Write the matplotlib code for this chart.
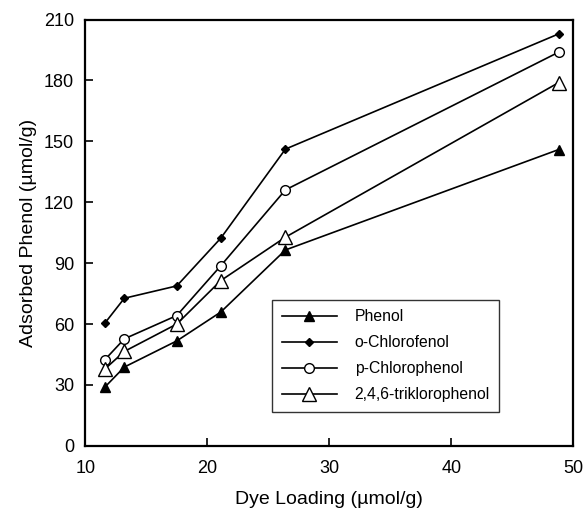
import matplotlib
matplotlib.use("Agg")
import matplotlib.pyplot as plt

plt.rcParams['font.family'] = ['Liberation Sans', 'DejaVu Sans']

# dye loading (umol/g)
dye_loading = [11.6, 13.2, 17.5, 21.1, 26.4, 48.8]

# adsorbed amounts (umol/g)
phenol = [28.9, 38.8, 51.7, 65.9, 96.5, 146]
o_chlorofenol = [60.4, 72.7, 78.8, 102.3, 146.2, 203]
p_chlorophenol = [42.4, 52.7, 64.2, 88.7, 126.1, 194]
triklorophenol = [37.8, 46.5, 60.0, 81.4, 102.8, 179]

x_ticks = [10, 20, 30, 40, 50]
y_ticks = [0, 30, 60, 90, 120, 150, 180, 210]

fig = plt.figure(figsize=(5.84, 5.16), dpi=100)
ax = fig.add_axes([0.146, 0.136, 0.836, 0.826])

ax.plot(dye_loading, phenol, color='black', lw=1.2, marker='^', ms=7,
        mfc='black', mec='black', label='Phenol')
ax.plot(dye_loading, o_chlorofenol, color='black', lw=1.2, marker='D', ms=4.5,
        mfc='black', mec='black', label='o-Chlorofenol')
ax.plot(dye_loading, p_chlorophenol, color='black', lw=1.2, marker='o', ms=7,
        mfc='white', mec='black', mew=1.0, label='p-Chlorophenol')
ax.plot(dye_loading, triklorophenol, color='black', lw=1.2, marker='^', ms=10.5,
        mfc='white', mec='black', mew=1.0, label='2,4,6-triklorophenol')

ax.set_xlim(10, 50)
ax.set_ylim(0, 210)
ax.set_xticks(x_ticks)
ax.set_yticks(y_ticks)
ax.tick_params(direction='in', length=6, width=1.2, labelsize=13)
ax.tick_params(axis='x', pad=10)
ax.tick_params(axis='y', pad=8)
for s in ax.spines.values():
    s.set_linewidth(1.6)

ax.set_xlabel('Dye Loading (µmol/g)', fontsize=14, labelpad=10)
ax.set_ylabel('Adsorbed Phenol (µmol/g)', fontsize=14, labelpad=5)

leg = ax.legend(loc='lower left', bbox_to_anchor=(0.383, 0.080), fontsize=11.3,
                frameon=True, fancybox=False, edgecolor='black',
                handlelength=3.5, handletextpad=1.15, labelspacing=0.7,
                borderpad=0.6, borderaxespad=0)
leg.get_frame().set_linewidth(1.0)

plt.savefig('out.png', dpi=100)
